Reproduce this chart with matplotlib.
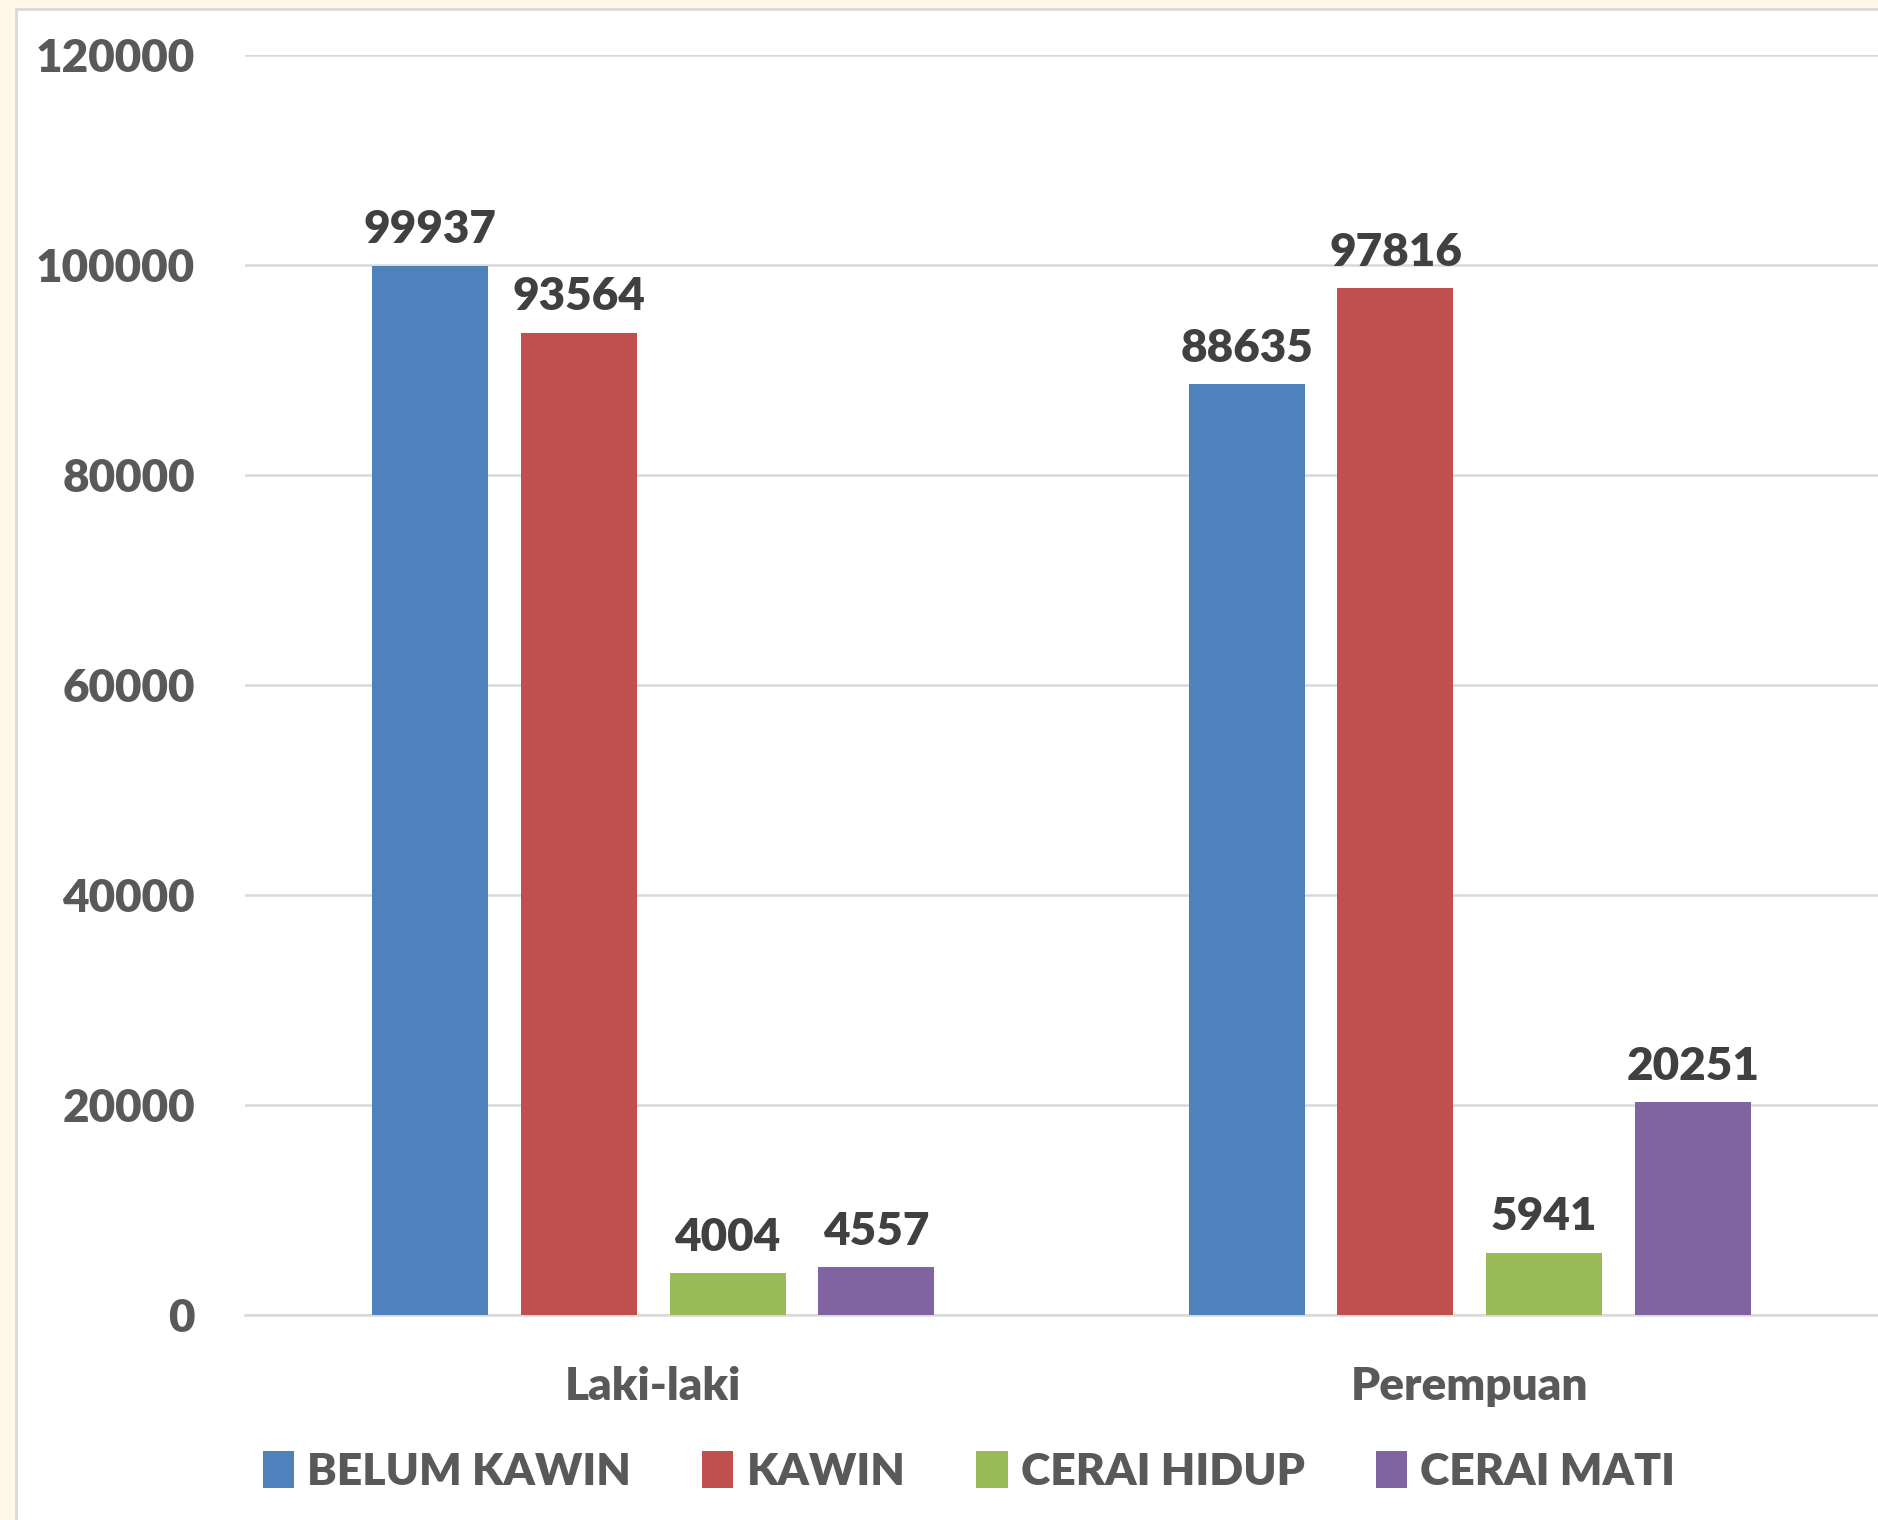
import matplotlib
matplotlib.use("Agg")
import matplotlib.pyplot as plt
from matplotlib.patches import Rectangle
import numpy as np

plt.rcParams['font.family'] = ['Lato', 'DejaVu Sans']
plt.rcParams['font.weight'] = 'bold'

categories = ['Laki-laki', 'Perempuan']
series_names = ['BELUM KAWIN', 'KAWIN', 'CERAI HIDUP', 'CERAI MATI']
belum_kawin = [99937, 88635]
kawin = [93564, 97816]
cerai_hidup = [4004, 5941]
cerai_mati = [4557, 20251]
yticks = [0, 20000, 40000, 60000, 80000, 100000, 120000]

colors = ['#4F81BD', '#C0504D', '#9BBB59', '#8064A2']
values = [belum_kawin, kawin, cerai_hidup, cerai_mati]

fig = plt.figure(figsize=(18.78, 15.2), dpi=100)
fig.patch.set_facecolor('#FFF8E9')
# white chart area with thin grey border
fig.patches.append(Rectangle((16 / 1878, -0.01), 1.0, 1.01 - 9 / 1520,
                             transform=fig.transFigure, facecolor='white',
                             edgecolor='#D9D9D9', linewidth=2, zorder=-5))

ax = fig.add_axes([245 / 1878, 1 - 1315 / 1520, 1 - 245 / 1878, (1315 - 55) / 1520])
ax.set_facecolor('none')
ax.set_zorder(2)

x = np.arange(len(categories))
step = 0.182
width = 0.142
for i, (name, vals, c) in enumerate(zip(series_names, values, colors)):
    pos = x + (i - 1.5) * step
    bars = ax.bar(pos, vals, width=width, color=c, label=name, zorder=3)
    for b, v in zip(bars, vals):
        ax.annotate(str(v), (b.get_x() + b.get_width() / 2, v), xytext=(0, 11),
                    textcoords='offset points', ha='center', va='bottom',
                    fontsize=33, fontweight='heavy', color='#404040')

ax.set_xlim(-0.5, 1.5)
ax.set_ylim(0, 120000)
ax.set_yticks(yticks)
ax.set_yticklabels([str(t) for t in yticks])
ax.set_xticks(x)
ax.set_xticklabels(categories)
ax.tick_params(axis='y', length=0, pad=36, labelsize=33, labelcolor='#595959')
ax.tick_params(axis='x', length=0, pad=37, labelsize=33, labelcolor='#595959')
for lbl in ax.get_xticklabels() + ax.get_yticklabels():
    lbl.set_fontweight('heavy')
ax.grid(axis='y', color='#D9D9D9', linewidth=1.8, zorder=0)
for s in ['top', 'right', 'left']:
    ax.spines[s].set_visible(False)
ax.spines['bottom'].set_color('#D9D9D9')
ax.spines['bottom'].set_linewidth(1.8)

leg = fig.legend(loc='center', bbox_to_anchor=(0.516, 0.032), ncol=4, frameon=False,
                 fontsize=32, labelcolor='#595959', handlelength=0.7, handleheight=0.9,
                 handletextpad=0.3, columnspacing=1.6)
for t in leg.get_texts():
    t.set_fontweight('heavy')

fig.savefig('out.png', dpi=100, facecolor=fig.get_facecolor())
